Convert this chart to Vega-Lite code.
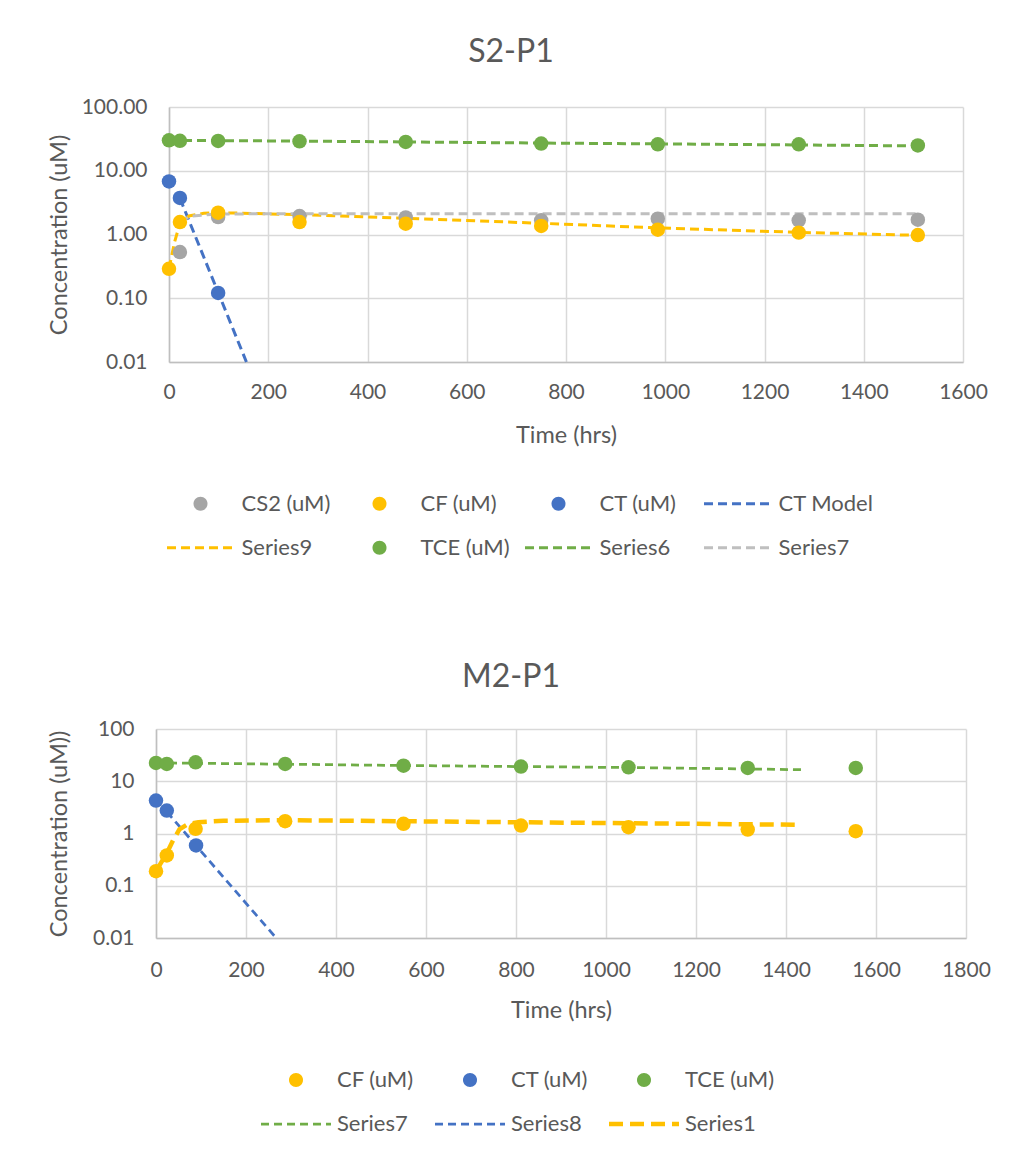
{
  "$schema": "https://vega.github.io/schema/vega-lite/v6.json",
  "background": "white",
  "padding": {"left": 47, "top": 36, "right": 10, "bottom": 10},
  "columns": 1,
  "align": "none",
  "spacing": 101,
  "config": {
    "font": "Lato",
    "view": {"stroke": null},
    "axis": {"ticks": false, "labelColor": "#595959", "titleColor": "#595959", "labelFontSize": 21, "titleFontSize": 23.5, "titleFontWeight": "normal", "gridColor": "#D9D9D9", "gridWidth": 1.5, "domainColor": "#BFBFBF", "domainWidth": 1.5, "labelFlush": false, "labelOverlap": false, "labelFont": "Lato", "titleFont": "Lato"},
    "title": {"fontSize": 32, "fontWeight": "normal", "color": "#595959", "anchor": "middle", "baseline": "alphabetic", "font": "Lato"}
  },
  "datasets": {
    "topPoints": [
      {"s": "CS2 (uM)", "t": 22, "c": 0.53}, {"s": "CS2 (uM)", "t": 99, "c": 1.88}, {"s": "CS2 (uM)", "t": 263, "c": 1.95}, {"s": "CS2 (uM)", "t": 477, "c": 1.85}, {"s": "CS2 (uM)", "t": 750, "c": 1.67}, {"s": "CS2 (uM)", "t": 985, "c": 1.77}, {"s": "CS2 (uM)", "t": 1269, "c": 1.67}, {"s": "CS2 (uM)", "t": 1509, "c": 1.71},
      {"s": "CF (uM)", "t": 0, "c": 0.29}, {"s": "CF (uM)", "t": 22, "c": 1.57}, {"s": "CF (uM)", "t": 99, "c": 2.2}, {"s": "CF (uM)", "t": 263, "c": 1.57}, {"s": "CF (uM)", "t": 477, "c": 1.48}, {"s": "CF (uM)", "t": 750, "c": 1.36}, {"s": "CF (uM)", "t": 985, "c": 1.19}, {"s": "CF (uM)", "t": 1269, "c": 1.07}, {"s": "CF (uM)", "t": 1509, "c": 0.98},
      {"s": "CT (uM)", "t": 0, "c": 6.8}, {"s": "CT (uM)", "t": 22, "c": 3.74}, {"s": "CT (uM)", "t": 99, "c": 0.121},
      {"s": "TCE (uM)", "t": 0, "c": 30}, {"s": "TCE (uM)", "t": 22, "c": 29.5}, {"s": "TCE (uM)", "t": 99, "c": 29.3}, {"s": "TCE (uM)", "t": 263, "c": 29}, {"s": "TCE (uM)", "t": 477, "c": 28.3}, {"s": "TCE (uM)", "t": 750, "c": 26.7}, {"s": "TCE (uM)", "t": 985, "c": 26}, {"s": "TCE (uM)", "t": 1269, "c": 26}, {"s": "TCE (uM)", "t": 1509, "c": 25}
    ],
    "topLines": [
      {"s": "CT Model", "t": 22, "c": 3.7}, {"s": "CT Model", "t": 156, "c": 0.01},
      {"s": "Series9", "t": 0, "c": 0.29}, {"s": "Series9", "t": 11, "c": 0.75}, {"s": "Series9", "t": 22, "c": 1.5}, {"s": "Series9", "t": 40, "c": 1.95}, {"s": "Series9", "t": 70, "c": 2.15}, {"s": "Series9", "t": 100, "c": 2.2}, {"s": "Series9", "t": 263, "c": 2.05}, {"s": "Series9", "t": 477, "c": 1.8}, {"s": "Series9", "t": 750, "c": 1.5}, {"s": "Series9", "t": 985, "c": 1.27}, {"s": "Series9", "t": 1269, "c": 1.08}, {"s": "Series9", "t": 1509, "c": 0.97},
      {"s": "Series6", "t": 0, "c": 30}, {"s": "Series6", "t": 263, "c": 29.2}, {"s": "Series6", "t": 477, "c": 28.3}, {"s": "Series6", "t": 750, "c": 27.2}, {"s": "Series6", "t": 985, "c": 26.4}, {"s": "Series6", "t": 1269, "c": 25.4}, {"s": "Series6", "t": 1509, "c": 24.5},
      {"s": "Series7", "t": 22, "c": 1.6}, {"s": "Series7", "t": 45, "c": 1.95}, {"s": "Series7", "t": 100, "c": 2.1}, {"s": "Series7", "t": 263, "c": 2.12}, {"s": "Series7", "t": 1509, "c": 2.12}
    ],
    "botPoints": [
      {"s": "CF (uM)", "t": 0, "c": 0.19}, {"s": "CF (uM)", "t": 24, "c": 0.38}, {"s": "CF (uM)", "t": 88, "c": 1.23}, {"s": "CF (uM)", "t": 287, "c": 1.72}, {"s": "CF (uM)", "t": 550, "c": 1.53}, {"s": "CF (uM)", "t": 811, "c": 1.42}, {"s": "CF (uM)", "t": 1050, "c": 1.32}, {"s": "CF (uM)", "t": 1315, "c": 1.19}, {"s": "CF (uM)", "t": 1555, "c": 1.11},
      {"s": "CT (uM)", "t": 0, "c": 4.27}, {"s": "CT (uM)", "t": 24, "c": 2.75}, {"s": "CT (uM)", "t": 89, "c": 0.59},
      {"s": "TCE (uM)", "t": 0, "c": 22.4}, {"s": "TCE (uM)", "t": 24, "c": 21.4}, {"s": "TCE (uM)", "t": 88, "c": 23}, {"s": "TCE (uM)", "t": 287, "c": 21.4}, {"s": "TCE (uM)", "t": 550, "c": 19.9}, {"s": "TCE (uM)", "t": 811, "c": 19.1}, {"s": "TCE (uM)", "t": 1050, "c": 18.5}, {"s": "TCE (uM)", "t": 1315, "c": 18}, {"s": "TCE (uM)", "t": 1555, "c": 18}
    ],
    "botLines": [
      {"s": "Series7", "t": 0, "c": 22.5}, {"s": "Series7", "t": 287, "c": 21.2}, {"s": "Series7", "t": 550, "c": 20}, {"s": "Series7", "t": 811, "c": 19.1}, {"s": "Series7", "t": 1050, "c": 18.3}, {"s": "Series7", "t": 1315, "c": 17.2}, {"s": "Series7", "t": 1443, "c": 16.6},
      {"s": "Series8", "t": 24, "c": 2.6}, {"s": "Series8", "t": 267, "c": 0.01}
    ],
    "botThick": [
      {"s": "Series1", "t": 0, "c": 0.19}, {"s": "Series1", "t": 24, "c": 0.42}, {"s": "Series1", "t": 38, "c": 0.74}, {"s": "Series1", "t": 52, "c": 1.2}, {"s": "Series1", "t": 70, "c": 1.5}, {"s": "Series1", "t": 94, "c": 1.64}, {"s": "Series1", "t": 150, "c": 1.75}, {"s": "Series1", "t": 287, "c": 1.8}, {"s": "Series1", "t": 550, "c": 1.72}, {"s": "Series1", "t": 811, "c": 1.64}, {"s": "Series1", "t": 1050, "c": 1.57}, {"s": "Series1", "t": 1315, "c": 1.5}, {"s": "Series1", "t": 1431, "c": 1.47}
    ]
  },
  "resolve": {"scale": {"color": "independent", "x": "independent", "y": "independent"}, "legend": {"color": "independent"}},
  "concat": [
    {
      "width": 794,
      "height": 255,
      "title": {"text": "S2-P1", "offset": 26.7, "dx": -55},
      "encoding": {
        "x": {"field": "t", "type": "quantitative", "scale": {"domain": [0, 1600], "nice": false}, "axis": {"values": [0, 200, 400, 600, 800, 1000, 1200, 1400, 1600], "format": "d", "title": "Time (hrs)", "labelPadding": 19, "titlePadding": 21, "grid": true}},
        "y": {"field": "c", "type": "quantitative", "scale": {"type": "log", "domain": [0.01, 100], "nice": false}, "axis": {"values": [0.01, 0.1, 1, 10, 100], "format": ".2f", "title": "Concentration (uM)", "labelPadding": 22, "titlePadding": 10, "grid": true}},
        "color": {
          "field": "s", "type": "nominal",
          "scale": {"domain": ["CS2 (uM)", "Series9", "CF (uM)", "TCE (uM)", "CT (uM)", "Series6", "CT Model", "Series7"], "range": ["#A5A5A5", "#FFC000", "#FFC000", "#70AD47", "#4472C4", "#70AD47", "#4472C4", "#BFBFBF"]},
          "legend": {
            "title": null, "orient": "none", "legendX": 20.5, "legendY": 385.8, "columns": 4, "gridAlign": "all", "columnPadding": 2, "rowPadding": 22, "symbolSize": 900, "labelOffset": 30, "labelFontSize": 22, "labelColor": "#595959", "labelFont": "Lato", "padding": 0, "symbolType": "circle",
            "encode": {"symbols": {"update": {
              "shape": {"signal": "indexof(['CT Model','Series9','Series6','Series7'], datum.value) >= 0 ? 'M-2.233,0H2.233' : 'M-0.467,0A0.467,0.467,0,1,1,0.467,0A0.467,0.467,0,1,1,-0.467,0Z'"},
              "fill": {"signal": "indexof(['CT Model','Series9','Series6','Series7'], datum.value) >= 0 ? 'transparent' : ['#A5A5A5','#FFC000','#4472C4','#4472C4','#FFC000','#70AD47','#70AD47','#BFBFBF'][indexof(['CS2 (uM)','CF (uM)','CT (uM)','CT Model','Series9','TCE (uM)','Series6','Series7'], datum.value)]"},
              "stroke": {"signal": "indexof(['CT Model','Series9','Series6','Series7'], datum.value) >= 0 ? ['#A5A5A5','#FFC000','#4472C4','#4472C4','#FFC000','#70AD47','#70AD47','#BFBFBF'][indexof(['CS2 (uM)','CF (uM)','CT (uM)','CT Model','Series9','TCE (uM)','Series6','Series7'], datum.value)] : 'transparent'"},
              "strokeWidth": {"signal": "indexof(['CT Model','Series9','Series6','Series7'], datum.value) >= 0 ? 3 : 0"},
              "strokeDash": {"signal": "indexof(['CT Model','Series9','Series6','Series7'], datum.value) >= 0 ? [9,5] : [1,0]"},
              "opacity": {"value": 1}
            }}}
          }
        }
      },
      "layer": [
        {"data": {"name": "topLines"}, "mark": {"type": "line", "strokeDash": [9, 5], "strokeWidth": 3}},
        {"data": {"name": "topPoints"}, "mark": {"type": "point", "filled": true, "size": 210, "opacity": 1}}
      ]
    },
    {
      "width": 797,
      "height": 209,
      "title": {"text": "M2-P1", "offset": 24.5, "dx": -56.5},
      "encoding": {
        "x": {"field": "t", "type": "quantitative", "scale": {"domain": [0, 1800], "nice": false, "range": [-13, 797]}, "axis": {"values": [0, 200, 400, 600, 800, 1000, 1200, 1400, 1600, 1800], "format": "d", "title": "Time (hrs)", "labelPadding": 21, "titlePadding": 18, "grid": true}},
        "y": {"field": "c", "type": "quantitative", "scale": {"type": "log", "domain": [0.01, 100], "nice": false}, "axis": {"values": [0.01, 0.1, 1, 10, 100], "format": "~g", "title": "Concentration (uM))", "labelPadding": 22, "titlePadding": 21, "offset": 13, "grid": true}},
        "color": {
          "field": "s", "type": "nominal",
          "scale": {"domain": ["CF (uM)", "Series7", "CT (uM)", "Series8", "TCE (uM)", "Series1"], "range": ["#FFC000", "#70AD47", "#4472C4", "#4472C4", "#70AD47", "#FFC000"]},
          "legend": {
            "title": null, "orient": "none", "legendX": 116, "legendY": 340, "columns": 3, "gridAlign": "all", "columnPadding": -1, "rowPadding": 22, "symbolSize": 900, "labelOffset": 30, "labelFontSize": 22, "labelColor": "#595959", "labelFont": "Lato", "padding": 0, "symbolType": "circle",
            "encode": {"symbols": {"update": {
              "shape": {"signal": "indexof(['Series7','Series8','Series1'], datum.value) >= 0 ? 'M-2.333,0H2.333' : 'M-0.467,0A0.467,0.467,0,1,1,0.467,0A0.467,0.467,0,1,1,-0.467,0Z'"},
              "fill": {"signal": "indexof(['Series7','Series8','Series1'], datum.value) >= 0 ? 'transparent' : ['#FFC000','#4472C4','#70AD47','#70AD47','#4472C4','#FFC000'][indexof(['CF (uM)','CT (uM)','TCE (uM)','Series7','Series8','Series1'], datum.value)]"},
              "stroke": {"signal": "indexof(['Series7','Series8','Series1'], datum.value) >= 0 ? ['#FFC000','#4472C4','#70AD47','#70AD47','#4472C4','#FFC000'][indexof(['CF (uM)','CT (uM)','TCE (uM)','Series7','Series8','Series1'], datum.value)] : 'transparent'"},
              "strokeWidth": {"signal": "datum.value == 'Series1' ? 4.5 : (indexof(['Series7','Series8'], datum.value) >= 0 ? 2.75 : 0)"},
              "strokeDash": {"signal": "datum.value == 'Series1' ? [14,7] : [8,5]"},
              "opacity": {"value": 1}
            }}}
          }
        }
      },
      "layer": [
        {"data": {"name": "botLines"}, "mark": {"type": "line", "strokeDash": [8, 5], "strokeWidth": 2.75}},
        {"data": {"name": "botThick"}, "mark": {"type": "line", "strokeDash": [14, 7], "strokeWidth": 4.5}},
        {"data": {"name": "botPoints"}, "mark": {"type": "point", "filled": true, "size": 210, "opacity": 1}}
      ]
    }
  ]
}
